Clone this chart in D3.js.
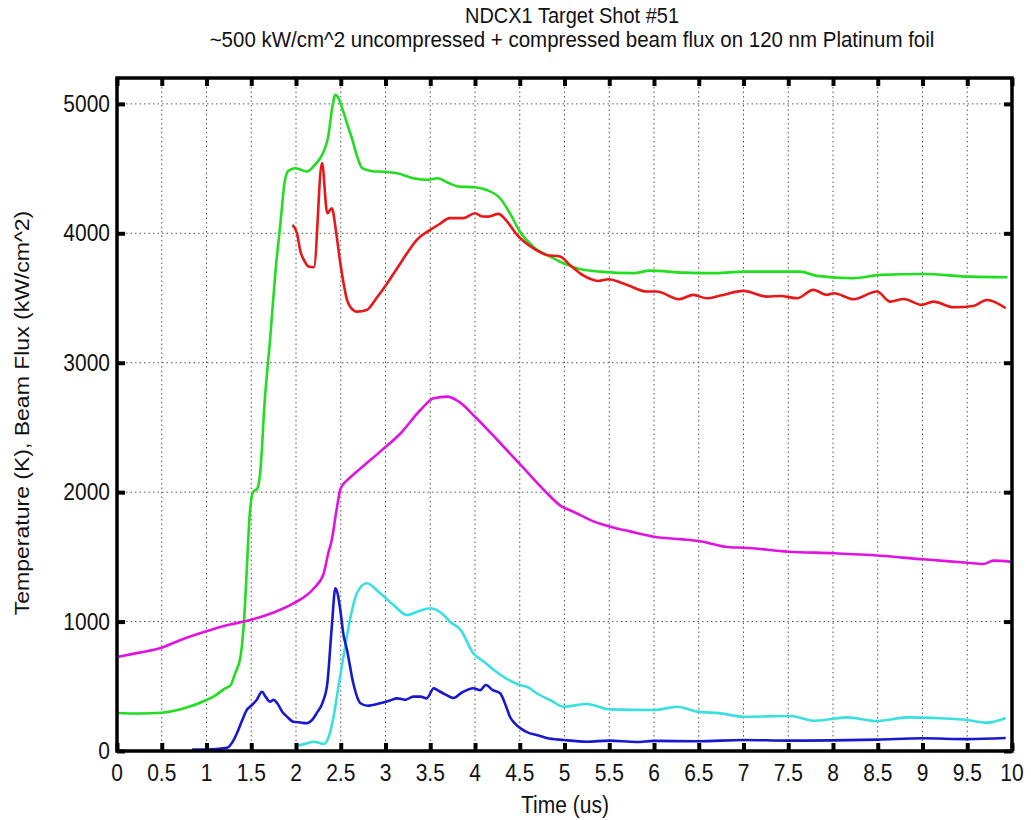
<!DOCTYPE html>
<html>
<head>
<style>
body { margin: 0; background: #fff; }
text { font-family: "Liberation Sans", Arial, sans-serif; fill: #111; }
</style>
</head>
<body>
<script src="https://d3js.org/d3.v7.min.js"></script>
<script>
// NDCX1 target shot #51 - temperature and beam flux traces

var svgWidth = 1031
var svgHeight = 820

// plot box
var boxLeft = 117, boxRight = 1012, boxTop = 78, boxBottom = 751

// axis ticks
var xTicks = [0, 0.5, 1, 1.5, 2, 2.5, 3, 3.5, 4, 4.5, 5, 5.5, 6, 6.5, 7, 7.5, 8, 8.5, 9, 9.5, 10]
var yTicks = [0, 1000, 2000, 3000, 4000, 5000]

// series, [time (us), value]
var green = [[0,294],[0.25,290],[0.5,296],[0.75,330],[1.0,394],[1.1,430],[1.2,480],[1.27,510],[1.32,600],[1.38,729],
  [1.42,1012],[1.45,1400],[1.48,1800],[1.52,2000],[1.57,2030],[1.6,2150],[1.65,2700],[1.71,3176],[1.77,3700],[1.83,4104],
  [1.87,4380],[1.91,4480],[1.99,4503],[2.06,4490],[2.12,4477],[2.2,4520],[2.27,4580],[2.32,4650],[2.36,4747],[2.40,4950],
  [2.44,5070],[2.47,5050],[2.51,4979],[2.57,4850],[2.63,4722],[2.68,4600],[2.74,4503],[2.85,4480],[2.94,4477],[3.13,4464],
  [3.31,4426],[3.48,4413],[3.58,4425],[3.7,4390],[3.82,4361],[4.00,4356],[4.13,4335],[4.28,4271],[4.39,4155],[4.49,4026],
  [4.65,3897],[4.84,3820],[5.03,3756],[5.18,3722],[5.40,3704],[5.77,3692],[5.96,3712],[6.33,3696],[6.70,3692],[7.0,3704],
  [7.63,3704],[7.82,3671],[8.23,3653],[8.53,3679],[9.01,3686],[9.53,3665],[9.95,3661]]

var red = [[1.96,4065],[2.01,4001],[2.05,3859],[2.1,3780],[2.14,3743],[2.20,3738],[2.29,4542],[2.35,4155],[2.40,4194],
  [2.45,4000],[2.49,3794],[2.53,3620],[2.57,3485],[2.62,3420],[2.68,3395],[2.79,3408],[2.9,3500],[3.02,3614],[3.13,3730],
  [3.24,3846],[3.35,3950],[3.50,4026],[3.6,4070],[3.72,4117],[3.87,4117],[4.00,4155],[4.08,4130],[4.15,4129],[4.26,4150],
  [4.36,4090],[4.47,3988],[4.65,3885],[4.80,3833],[4.95,3820],[5.06,3756],[5.20,3678],[5.38,3632],[5.49,3645],[5.70,3601],
  [5.92,3550],[6.03,3550],[6.28,3491],[6.44,3524],[6.59,3498],[6.74,3519],[7.0,3555],[7.26,3511],[7.41,3516],[7.60,3498],
  [7.78,3563],[7.93,3524],[8.01,3537],[8.23,3491],[8.49,3550],[8.64,3472],[8.79,3493],[8.99,3447],[9.12,3472],[9.35,3429],
  [9.57,3439],[9.72,3485],[9.93,3421]]

var magenta = [[0.02,729],[0.25,760],[0.48,794],[0.71,858],[0.99,923],[1.25,975],[1.49,1012],[1.75,1070],[1.97,1140],
  [2.20,1257],[2.31,1373],[2.36,1528],[2.40,1631],[2.45,1850],[2.5,2030],[2.6,2110],[2.75,2200],[2.94,2313],[3.17,2455],
  [3.39,2635],[3.54,2726],[3.69,2738],[3.82,2699],[4.00,2583],[4.25,2403],[4.51,2210],[4.77,2017],[4.97,1888],[5.10,1849],
  [5.33,1772],[5.51,1733],[5.74,1695],[6.00,1656],[6.29,1637],[6.50,1623],[6.85,1574],[7.00,1571],[7.50,1540],[8.01,1528],
  [8.53,1509],[9.01,1481],[9.50,1455],[9.68,1445],[9.79,1471],[9.98,1463]]

var cyan = [[1.99,39],[2.1,55],[2.20,72],[2.31,54],[2.37,120],[2.42,265],[2.47,480],[2.53,729],[2.61,1038],[2.68,1219],
  [2.79,1296],[2.94,1219],[3.09,1128],[3.24,1051],[3.39,1085],[3.50,1103],[3.65,1051],[3.72,999],[3.84,935],[3.98,755],
  [4.1,690],[4.21,626],[4.35,560],[4.47,518],[4.60,490],[4.69,446],[4.85,390],[4.99,342],[5.25,363],[5.51,322],[6.00,317],
  [6.26,342],[6.48,304],[6.74,291],[7.00,265],[7.52,270],[7.80,234],[8.16,260],[8.49,232],[8.83,260],[9.20,253],[9.50,240],
  [9.72,219],[9.93,255]]

var blue = [[0.84,12],[1.0,12],[1.23,25],[1.30,80],[1.34,137],[1.40,240],[1.45,317],[1.50,350],[1.56,394],[1.62,458],
  [1.66,420],[1.71,381],[1.75,395],[1.79,369],[1.85,300],[1.90,265],[1.97,226],[2.05,220],[2.12,214],[2.18,240],[2.23,291],
  [2.30,380],[2.35,523],[2.40,961],[2.44,1257],[2.47,1200],[2.49,1115],[2.53,900],[2.57,781],[2.64,523],[2.72,369],
  [2.80,350],[2.94,369],[3.05,390],[3.13,407],[3.22,395],[3.31,420],[3.39,420],[3.46,407],[3.54,485],[3.58,470],[3.66,440],
  [3.76,410],[3.85,450],[3.98,485],[4.06,470],[4.12,510],[4.20,470],[4.28,446],[4.35,340],[4.39,265],[4.45,210],[4.51,175],
  [4.60,140],[4.69,124],[4.8,100],[4.99,85],[5.25,72],[5.5,80],[5.8,70],[6.0,78],[6.5,75],[7.0,85],[7.5,80],[8.0,82],
  [8.5,88],[9.0,98],[9.5,92],[9.93,100]]

var series = [
  {data: green, color: "#22dd22"},
  {data: red, color: "#e81818"},
  {data: magenta, color: "#e014e0"},
  {data: cyan, color: "#3ae0e0"},
  {data: blue, color: "#1818cc"}
]

var svg = d3.select("body").append("svg")
  .attr("width", svgWidth)
  .attr("height", svgHeight)

var x = d3.scaleLinear().domain([0, 10]).range([boxLeft, boxRight])
var y = d3.scaleLinear().domain([0, 5200]).range([boxBottom, boxTop])

// grid (dotted)
var grid = svg.append("g").attr("class", "grid")
grid.selectAll(".vg").data(xTicks.slice(1, -1)).enter().append("line")
  .attr("x1", d => x(d)).attr("x2", d => x(d))
  .attr("y1", boxTop).attr("y2", boxBottom)
  .style("stroke", "#555").style("stroke-width", 1).style("stroke-dasharray", "1.5,3")
grid.selectAll(".hg").data(yTicks.slice(1)).enter().append("line")
  .attr("x1", boxLeft).attr("x2", boxRight)
  .attr("y1", d => y(d)).attr("y2", d => y(d))
  .style("stroke", "#555").style("stroke-width", 1).style("stroke-dasharray", "1.5,3")

// curves
var line = d3.line()
  .x(d => x(d[0]))
  .y(d => y(d[1]))
  .curve(d3.curveMonotoneX)

svg.selectAll(".trace").data(series).enter().append("path")
  .attr("class", "trace")
  .attr("d", d => line(d.data))
  .attr("fill", "none")
  .attr("stroke", d => d.color)
  .attr("stroke-width", 2.6)
  .attr("stroke-linejoin", "round")

// axes, ticks inward and mirrored on all four sides
var tickLen = 8
svg.append("g").attr("transform", "translate(0," + boxBottom + ")")
  .call(d3.axisBottom(x).tickValues(xTicks).tickSize(-tickLen).tickFormat(""))
svg.append("g").attr("transform", "translate(0," + boxTop + ")")
  .call(d3.axisTop(x).tickValues(xTicks).tickSize(-tickLen).tickFormat(""))
svg.append("g").attr("transform", "translate(" + boxLeft + ",0)")
  .call(d3.axisLeft(y).tickValues(yTicks).tickSize(-tickLen).tickFormat(""))
svg.append("g").attr("transform", "translate(" + boxRight + ",0)")
  .call(d3.axisRight(y).tickValues(yTicks).tickSize(-tickLen).tickFormat(""))

svg.selectAll(".tick line").style("stroke", "#000").style("stroke-width", 4)
svg.selectAll(".domain").remove()

// tick labels (text in the picture is a bit tall, so stretch vertically)
var stretch = 1.12
svg.selectAll(".xlab").data(xTicks).enter().append("text")
  .attr("class", "xlab")
  .attr("transform", d => "translate(" + x(d) + "," + (boxBottom + 30) + ") scale(1," + stretch + ")")
  .attr("text-anchor", "middle")
  .style("font-size", "21px")
  .text(d => d3.format("")(d))
svg.selectAll(".ylab").data(yTicks).enter().append("text")
  .attr("class", "ylab")
  .attr("transform", d => "translate(" + (boxLeft - 7) + "," + (y(d) + 8) + ") scale(1," + stretch + ")")
  .attr("text-anchor", "end")
  .style("font-size", "21px")
  .text(d => d3.format("")(d))

// frame
svg.append("rect")
  .attr("x", boxLeft).attr("y", boxTop)
  .attr("width", boxRight - boxLeft).attr("height", boxBottom - boxTop)
  .attr("fill", "none").attr("stroke", "#000").attr("stroke-width", 3.5)

// titles
svg.append("text").attr("transform", "translate(572,23) scale(1,1.06)").attr("text-anchor", "middle")
  .style("font-size", "20px").text("NDCX1 Target Shot #51")
svg.append("text").attr("transform", "translate(572,47) scale(1,1.06)").attr("text-anchor", "middle")
  .style("font-size", "20.5px").text("~500 kW/cm^2 uncompressed + compressed beam flux on 120 nm Platinum foil")

svg.append("text").attr("transform", "translate(565,813) scale(1," + stretch + ")").attr("text-anchor", "middle")
  .style("font-size", "21px").text("Time (us)")

svg.append("text").attr("transform", "translate(29,413) rotate(-90) scale(1.15,1)").attr("text-anchor", "middle")
  .style("font-size", "20px").text("Temperature (K), Beam Flux (kW/cm^2)")
</script>
</body>
</html>
